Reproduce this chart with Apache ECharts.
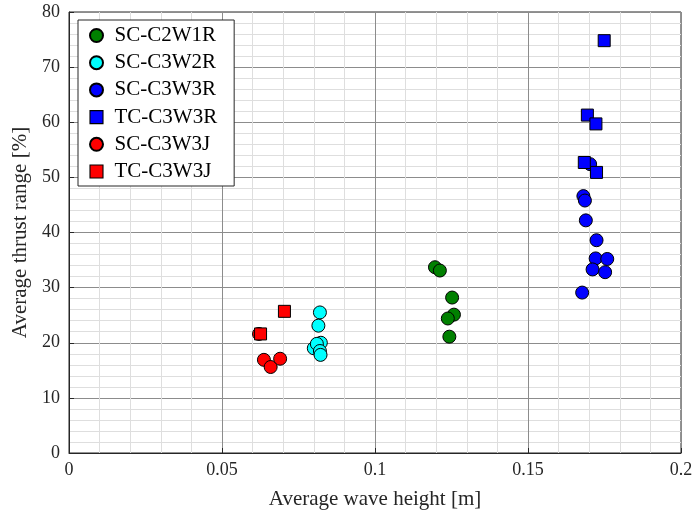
<!DOCTYPE html>
<html>
<head>
<meta charset="utf-8">
<title>Average thrust range vs wave height</title>
<script src="https://cdn.jsdelivr.net/npm/echarts@6/dist/echarts.min.js"></script>
<style>
  html, body { margin: 0; padding: 0; background: #fff; }
  #chart { width: 696px; height: 519px; }
</style>
</head>
<body>
<div id="chart"></div>
<script>
// [wave height (m), thrust range (%)]
var scC2W1R = [[0.1196, 33.7], [0.1212, 33.1], [0.1252, 28.2], [0.1258, 25.1], [0.1238, 24.4], [0.1243, 21.1]];
var scC3W2R = [[0.0820, 25.5], [0.0815, 23.1], [0.0823, 20.0], [0.0800, 19.0], [0.0810, 19.8], [0.0820, 18.5], [0.0822, 17.8]];
var scC3W3R = [[0.1703, 52.4], [0.1681, 46.6], [0.1686, 45.8], [0.1689, 42.2], [0.1724, 38.6], [0.1721, 35.3],
               [0.1759, 35.2], [0.1711, 33.3], [0.1752, 32.8], [0.1677, 29.1]];
var tcC3W3R = [[0.1749, 74.8], [0.1694, 61.3], [0.1722, 59.7], [0.1684, 52.7], [0.1724, 50.9]];
var scC3W3J = [[0.0621, 21.6], [0.0637, 16.9], [0.0659, 15.6], [0.0690, 17.1]];
var tcC3W3J = [[0.0626, 21.6], [0.0704, 25.7]];

var xTicks = [0, 0.05, 0.1, 0.15, 0.2];
var yTicks = [0, 10, 20, 30, 40, 50, 60, 70, 80];

var serif = 'Liberation Serif';
var square = 'path://M0,0L10,0L10,10L0,10Z';
var chart = echarts.init(document.getElementById('chart'));

function ser(name, data, color, symbol) {
    return {
        name: name,
        type: 'scatter',
        data: data,
        symbol: symbol,
        symbolSize: symbol == 'rect' ? 12 : 13,
        itemStyle: { color: color, borderColor: '#000', borderWidth: 1, opacity: 1 }
    };
}

chart.setOption({
    animation: false,
    grid: { left: 69, right: 15, top: 12, bottom: 66, show: true, borderColor: '#262626', borderWidth: 1 },
    legend: {
        left: 78, top: 20, orient: 'vertical',
        backgroundColor: '#fff', borderColor: '#262626', borderWidth: 1,
        padding: [5, 17, 4, 11],
        itemWidth: 26, itemHeight: 13, itemGap: 6.2,
        symbolKeepAspect: true,
        textStyle: { fontFamily: serif, fontSize: 21, lineHeight: 20, color: '#000' },
        data: [
            { name: 'SC-C2W1R', icon: 'circle' },
            { name: 'SC-C3W2R', icon: 'circle' },
            { name: 'SC-C3W3R', icon: 'circle' },
            { name: 'TC-C3W3R', icon: square, itemStyle: { borderWidth: 1.1 } },
            { name: 'SC-C3W3J', icon: 'circle' },
            { name: 'TC-C3W3J', icon: square, itemStyle: { borderWidth: 1.1 } }
        ]
    },
    xAxis: {
        type: 'value', min: xTicks[0], max: xTicks[xTicks.length - 1], interval: 0.05,
        name: 'Average wave height [m]', nameLocation: 'middle', nameGap: 36,
        nameTextStyle: { fontFamily: serif, fontSize: 21, color: '#262626' },
        axisLine: { show: true, lineStyle: { color: '#262626' } },
        axisTick: { show: true, inside: true, length: 5, lineStyle: { color: '#262626' } },
        axisLabel: { fontFamily: serif, fontSize: 18, color: '#262626', margin: 8,
            formatter: function (v) { return String(+v.toFixed(2)); } },
        splitLine: { show: true, lineStyle: { color: '#8c8c8c', width: 1 } },
        minorTick: { show: false, splitNumber: 5 },
        minorSplitLine: { show: true, lineStyle: { color: '#dedede', width: 1 } }
    },
    yAxis: {
        type: 'value', min: yTicks[0], max: yTicks[yTicks.length - 1], interval: 10,
        name: 'Average thrust range [%]', nameLocation: 'middle', nameGap: 33,
        nameTextStyle: { fontFamily: serif, fontSize: 21, color: '#262626' },
        axisLine: { show: true, lineStyle: { color: '#262626' } },
        axisTick: { show: true, inside: true, length: 5, lineStyle: { color: '#262626' } },
        axisLabel: { fontFamily: serif, fontSize: 18, color: '#262626', margin: 9 },
        splitLine: { show: true, lineStyle: { color: '#8c8c8c', width: 1 } },
        minorTick: { show: false, splitNumber: 5 },
        minorSplitLine: { show: true, lineStyle: { color: '#dedede', width: 1 } }
    },
    series: [
        ser('SC-C2W1R', scC2W1R, '#008000', 'circle'),
        ser('SC-C3W2R', scC3W2R, '#00ffff', 'circle'),
        ser('SC-C3W3R', scC3W3R, '#0000ff', 'circle'),
        ser('TC-C3W3R', tcC3W3R, '#0000ff', 'rect'),
        ser('SC-C3W3J', scC3W3J, '#ff0000', 'circle'),
        ser('TC-C3W3J', tcC3W3J, '#ff0000', 'rect')
    ]
});
</script>
</body>
</html>
